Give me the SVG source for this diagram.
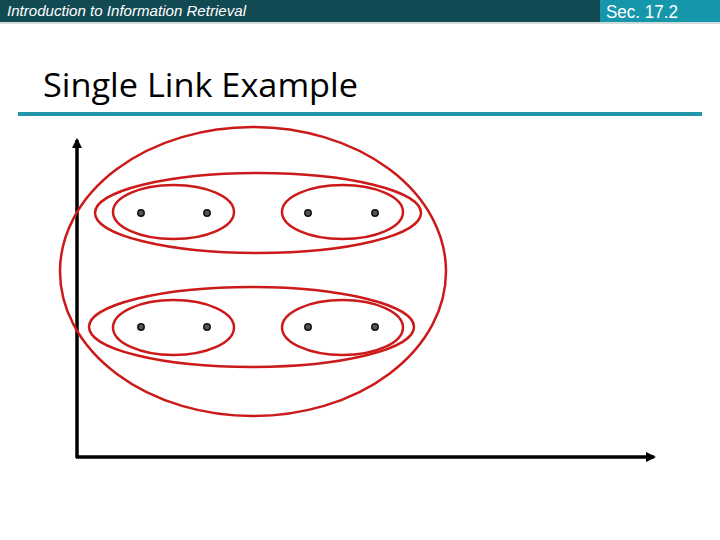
<svg xmlns="http://www.w3.org/2000/svg" width="720" height="540" viewBox="0 0 720 540">
<style>
.hdr{font-family:"Liberation Sans","DejaVu Sans",sans-serif;fill:#fff}
.cl{fill:none;stroke:#CC1A1A;stroke-width:2.5}
.pt{fill:#555;stroke:#111;stroke-width:1.5}
.ax{stroke:#000;stroke-width:3.5;fill:none}
</style>
<defs>
<marker id="ah" viewBox="0 0 10 10" refX="8" refY="5" markerWidth="3" markerHeight="3" orient="auto" markerUnits="strokeWidth">
<path d="M0,0 L10,5 L0,10 z" fill="#000"/>
</marker>
</defs>
<rect width="720" height="540" fill="#fff"/>
<g id="header">
<rect x="0" y="0" width="720" height="22" fill="#124A54"/>
<rect x="600" y="0" width="120" height="22" fill="#1596AA"/>
<rect x="0" y="22" width="720" height="2" fill="#D3DADC"/>
<text class="hdr" x="7" y="16" font-size="14" font-style="italic" textLength="239" lengthAdjust="spacingAndGlyphs">Introduction to Information Retrieval</text>
<text class="hdr" x="606" y="18" font-size="18" textLength="72" lengthAdjust="spacingAndGlyphs">Sec. 17.2</text>
</g>
<g id="title">
<text x="43" y="97" font-family="'Open Sans','Liberation Sans',sans-serif" font-size="33" fill="#000" textLength="315" lengthAdjust="spacingAndGlyphs">Single Link Example</text>
<rect x="18" y="112" width="684" height="4" fill="#2196A8"/>
</g>
<g id="connectors">
<line class="ax" x1="77" y1="458" x2="77" y2="140" marker-end="url(#ah)"/>
<line class="ax" x1="76" y1="457" x2="654" y2="457" marker-end="url(#ah)"/>
</g>
<g id="clusters">
<ellipse id="c-all" class="cl" cx="253" cy="271.5" rx="193" ry="144.5"/>
<ellipse id="c-top" class="cl" cx="258" cy="213" rx="163" ry="40"/>
<ellipse id="c-bottom" class="cl" cx="251.5" cy="327" rx="162.5" ry="40"/>
<ellipse id="c-tl" class="cl" cx="173.5" cy="212" rx="60.5" ry="27"/>
<ellipse id="c-tr" class="cl" cx="342.5" cy="212" rx="60.5" ry="27"/>
<ellipse id="c-bl" class="cl" cx="173.5" cy="327.5" rx="60.5" ry="27.5"/>
<ellipse id="c-br" class="cl" cx="342.5" cy="327.5" rx="60.5" ry="27.5"/>
</g>
<g id="points">
<circle id="p1" class="pt" cx="141" cy="213" r="3.2"/>
<circle id="p2" class="pt" cx="207" cy="213" r="3.2"/>
<circle id="p3" class="pt" cx="308" cy="213" r="3.2"/>
<circle id="p4" class="pt" cx="375" cy="213" r="3.2"/>
<circle id="p5" class="pt" cx="141" cy="327" r="3.2"/>
<circle id="p6" class="pt" cx="207" cy="327" r="3.2"/>
<circle id="p7" class="pt" cx="308" cy="327" r="3.2"/>
<circle id="p8" class="pt" cx="375" cy="327" r="3.2"/>
</g>
</svg>
